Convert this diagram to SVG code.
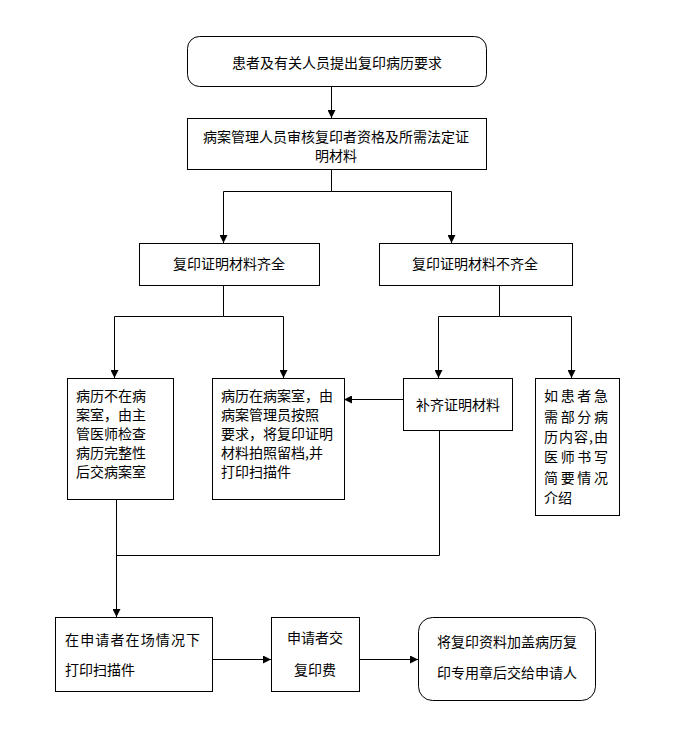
<svg xmlns="http://www.w3.org/2000/svg" width="682" height="735" viewBox="0 0 682 735">
<style>
.box{fill:#fff;stroke:#000;stroke-width:1}
.t{font-family:"Noto Sans CJK SC","Liberation Sans",sans-serif;font-size:14px;fill:#000}
.c{text-anchor:middle}
.ln{fill:none;stroke:#000;stroke-width:1}
</style>
<defs>
<marker id="ah" markerUnits="userSpaceOnUse" markerWidth="8" markerHeight="8" refX="8" refY="4" orient="auto">
<path d="M0,0 L8,4 L0,8 z" fill="#000"/>
</marker>
</defs>
<rect width="682" height="735" fill="#fff"/>
<g id="connectors">
<path class="ln" d="M331.5,86 V118" marker-end="url(#ah)"/>
<path class="ln" d="M331.5,169 V191.5 H223.5 V243" marker-end="url(#ah)"/>
<path class="ln" d="M331.5,191.5 H451.5 V243" marker-end="url(#ah)"/>
<path class="ln" d="M223.5,285 V316.5 H114.5 V378" marker-end="url(#ah)"/>
<path class="ln" d="M223.5,316.5 H283.5 V378" marker-end="url(#ah)"/>
<path class="ln" d="M499.5,285 V316.5 H438.5 V378" marker-end="url(#ah)"/>
<path class="ln" d="M499.5,316.5 H571.5 V378" marker-end="url(#ah)"/>
<path class="ln" d="M403,399.5 H344" marker-end="url(#ah)"/>
<path class="ln" d="M116.5,499 V617" marker-end="url(#ah)"/>
<path class="ln" d="M439.5,430 V555.5 H116.5"/>
<path class="ln" d="M212,659.5 H271" marker-end="url(#ah)"/>
<path class="ln" d="M359,659.5 H418" marker-end="url(#ah)"/>
</g>
<g id="n1">
<rect class="box" x="187.5" y="36.5" width="299" height="50" rx="12"/>
<text class="t c" x="337" y="68">患者及有关人员提出复印病历要求</text>
</g>
<g id="n2">
<rect class="box" x="187.5" y="118.5" width="299" height="51"/>
<text class="t c" x="336" y="142">病案管理人员审核复印者资格及所需法定证</text>
<text class="t c" x="336" y="161">明材料</text>
</g>
<g id="n3">
<rect class="box" x="139.5" y="243.5" width="180" height="42"/>
<text class="t c" x="229" y="269">复印证明材料齐全</text>
</g>
<g id="n4">
<rect class="box" x="379.5" y="243.5" width="193" height="42"/>
<text class="t c" x="475" y="269">复印证明材料不齐全</text>
</g>
<g id="n5">
<rect class="box" x="67.5" y="378.5" width="106" height="121"/>
<text class="t" x="76" y="401">病历不在病</text>
<text class="t" x="76" y="420">案室，由主</text>
<text class="t" x="76" y="439">管医师检查</text>
<text class="t" x="76" y="458">病历完整性</text>
<text class="t" x="76" y="477">后交病案室</text>
</g>
<g id="n6">
<rect class="box" x="212.5" y="378.5" width="132" height="121"/>
<text class="t" x="221" y="401">病历在病案室，由</text>
<text class="t" x="221" y="420">病案管理员按照</text>
<text class="t" x="221" y="439">要求，将复印证明</text>
<text class="t" x="221" y="458">材料拍照留档,并</text>
<text class="t" x="221" y="477">打印扫描件</text>
</g>
<g id="n7">
<rect class="box" x="403.5" y="378.5" width="109" height="52"/>
<text class="t c" x="458" y="410">补齐证明材料</text>
</g>
<g id="n8">
<rect class="box" x="535.5" y="378.5" width="84" height="137"/>
<text class="t" x="544" y="401" textLength="64" lengthAdjust="spacing">如患者急</text>
<text class="t" x="544" y="422" textLength="64" lengthAdjust="spacing">需部分病</text>
<text class="t" x="544" y="442" textLength="64" lengthAdjust="spacing">历内容,由</text>
<text class="t" x="544" y="462" textLength="64" lengthAdjust="spacing">医师书写</text>
<text class="t" x="544" y="483" textLength="64" lengthAdjust="spacing">简要情况</text>
<text class="t" x="544" y="503">介绍</text>
</g>
<g id="n9">
<rect class="box" x="55.5" y="617.5" width="157" height="74"/>
<text class="t" x="65" y="645" textLength="135" lengthAdjust="spacing">在申请者在场情况下</text>
<text class="t" x="65" y="675">打印扫描件</text>
</g>
<g id="n10">
<rect class="box" x="271.5" y="617.5" width="88" height="74"/>
<text class="t c" x="315" y="643">申请者交</text>
<text class="t c" x="315" y="675">复印费</text>
</g>
<g id="n11">
<rect class="box" x="418.5" y="617.5" width="177" height="83" rx="14"/>
<text class="t c" x="507" y="647">将复印资料加盖病历复</text>
<text class="t c" x="507" y="678">印专用章后交给申请人</text>
</g>
</svg>
